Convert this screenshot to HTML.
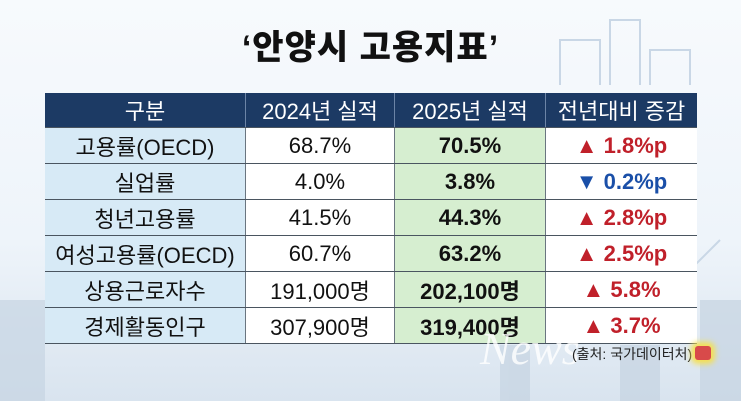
<!DOCTYPE html>
<html><head><meta charset="utf-8"><style>
body{margin:0;width:741px;height:401px;overflow:hidden;font-family:"Liberation Sans","Noto Sans CJK KR",sans-serif;
background:linear-gradient(180deg,#f7fafd 0%,#eef4fa 60%,#d9e4ef 100%);position:relative}
.title{position:absolute;top:20px;left:0;width:741px;text-align:center;font-size:34px;font-weight:900;color:#111;letter-spacing:1px}
table{position:absolute;left:45px;top:93px;border-collapse:collapse;width:652px}
td,th{text-align:center;padding:0;border-bottom:1px solid #4a5560;font-size:22px;color:#111}
th{background:#1c3a64;color:#fff;font-weight:normal;height:34px;border-left:1px solid #6c84a6}
td{height:35px;background:#fff;border-left:1px solid #6a7580}
td.c1{background:#d7eaf6;border-left:none}
td.g{background:#d6eed0;font-weight:bold}
td.up{color:#c0202a;font-weight:bold}
td.dn{color:#1a4fa8;font-weight:bold}
th:first-child{border-left:none}
.src{position:absolute;left:572px;top:344px;font-size:14px;color:#222}
.news{position:absolute;left:480px;top:322px;font-size:46px;font-style:italic;color:rgba(255,255,255,.8);font-family:"Liberation Serif",serif}
</style></head><body>
<svg width="741" height="401" style="position:absolute;left:0;top:0">
<g fill="none" stroke="#c9d7e6" stroke-width="2">
<path d="M560 85 V40 H600 V85 M610 85 V20 H640 V85 M650 85 V50 H690 V85"/>
<path d="M620 320 L680 280 L720 240"/>
</g>
<g fill="#c6d4e2" opacity=".7"><rect x="0" y="300" width="45" height="101"/><rect x="500" y="345" width="30" height="56"/><rect x="620" y="345" width="40" height="56"/><rect x="700" y="300" width="41" height="101"/></g>
</svg>
<div class="title">‘안양시 고용지표’</div>
<table>
<tr><th style="width:200px">구분</th><th style="width:148px">2024년 실적</th><th style="width:150px">2025년 실적</th><th>전년대비 증감</th></tr>
<tr><td class="c1">고용률(OECD)</td><td>68.7%</td><td class="g">70.5%</td><td class="up">▲ 1.8%p</td></tr>
<tr><td class="c1">실업률</td><td>4.0%</td><td class="g">3.8%</td><td class="dn">▼ 0.2%p</td></tr>
<tr><td class="c1">청년고용률</td><td>41.5%</td><td class="g">44.3%</td><td class="up">▲ 2.8%p</td></tr>
<tr><td class="c1">여성고용률(OECD)</td><td>60.7%</td><td class="g">63.2%</td><td class="up">▲ 2.5%p</td></tr>
<tr><td class="c1">상용근로자수</td><td>191,000명</td><td class="g">202,100명</td><td class="up">▲ 5.8%</td></tr>
<tr><td class="c1">경제활동인구</td><td>307,900명</td><td class="g">319,400명</td><td class="up">▲ 3.7%</td></tr>
</table>
<div class="news">News</div>
<div class="src">(출처: 국가데이터처)</div>
<div style="position:absolute;left:695px;top:346px;width:16px;height:14px;background:#d84a4a;border-radius:3px;box-shadow:0 0 6px 4px #f5e050"></div>
</body></html>
